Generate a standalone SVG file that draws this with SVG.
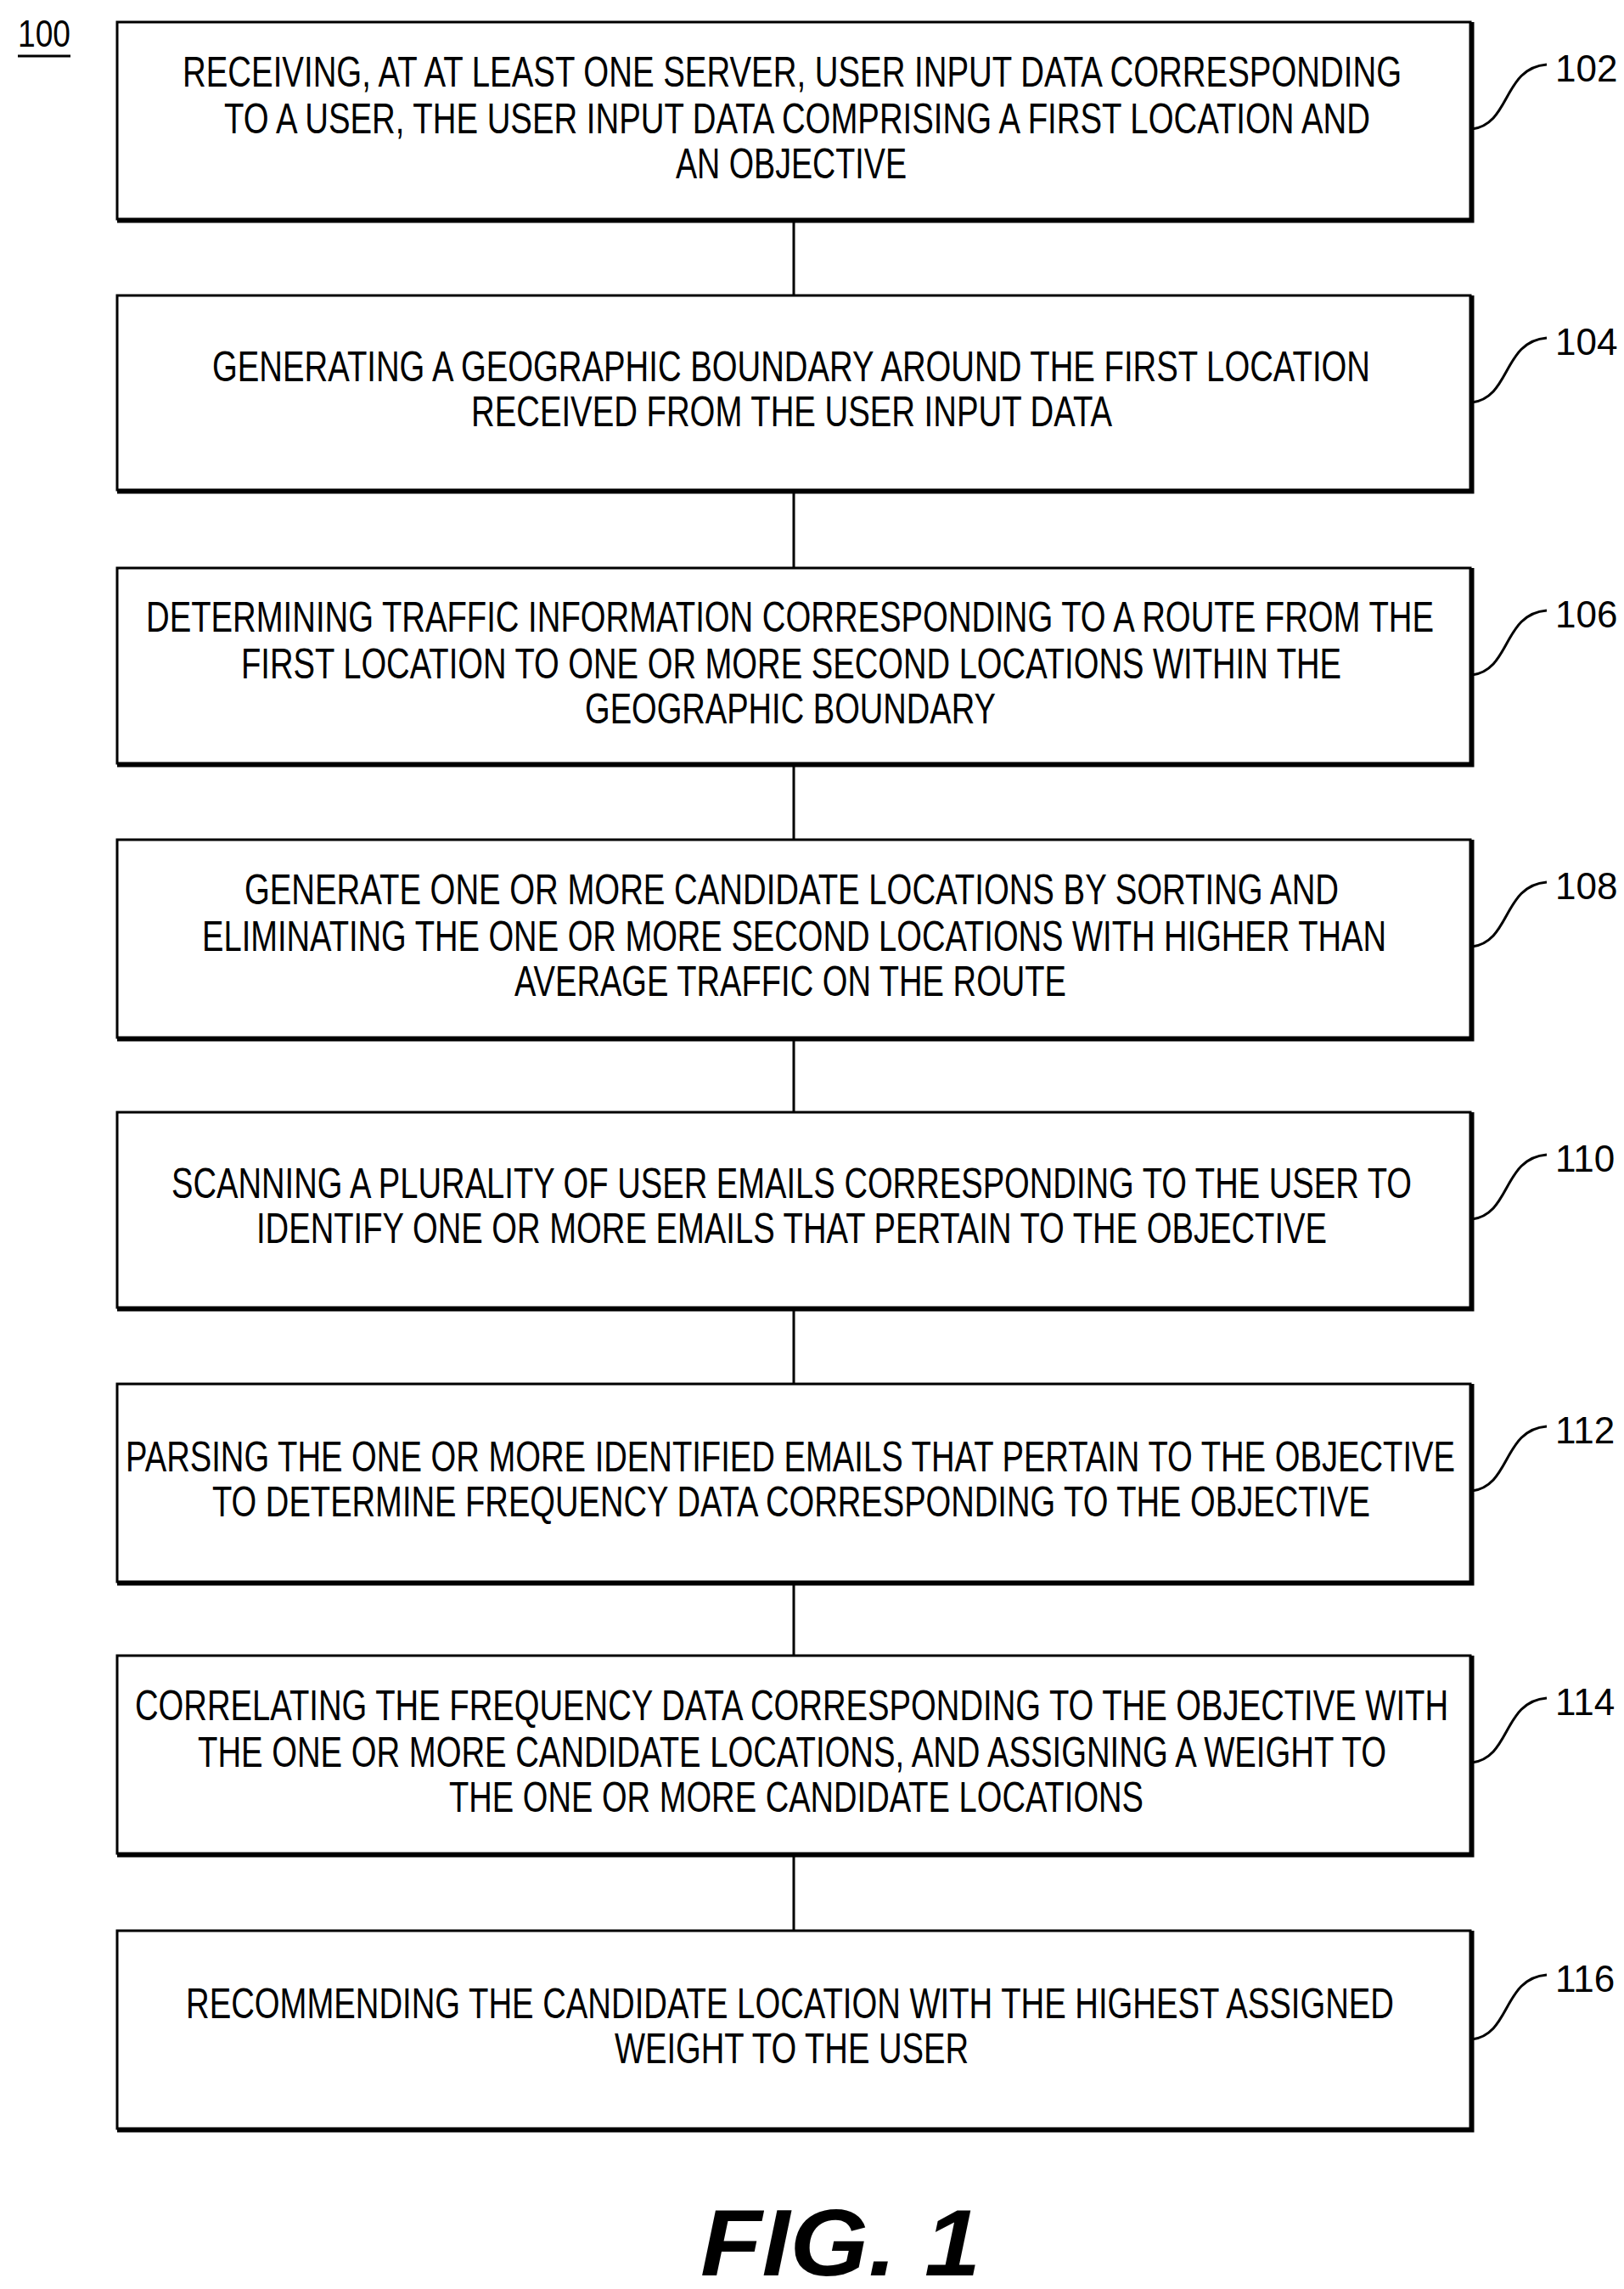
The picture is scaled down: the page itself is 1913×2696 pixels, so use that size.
<svg xmlns="http://www.w3.org/2000/svg" width="1913" height="2696" viewBox="0 0 1913 2696">
<style>
.box{fill:#fff;stroke:#000;stroke-width:3}
.sh{stroke:#000;stroke-width:5;fill:none}
.t{font-family:"Liberation Sans",Arial,sans-serif;font-size:50px;fill:#000}
.lbl{font-family:"Liberation Sans",Arial,sans-serif;font-size:44px;fill:#000}
.ld{stroke:#000;stroke-width:3;fill:none}
.cn{stroke:#000;stroke-width:3}
</style>
<rect width="1913" height="2696" fill="#fff"/>
<g id="ref100"><text class="lbl" x="21" y="55" textLength="62" lengthAdjust="spacingAndGlyphs">100</text><line x1="21" y1="66" x2="83" y2="66" stroke="#000" stroke-width="3"/></g>
<g id="connectors">
<line class="cn" x1="935" y1="258" x2="935" y2="348"/>
<line class="cn" x1="935" y1="577" x2="935" y2="669"/>
<line class="cn" x1="935" y1="899" x2="935" y2="989"/>
<line class="cn" x1="935" y1="1222" x2="935" y2="1310"/>
<line class="cn" x1="935" y1="1540" x2="935" y2="1630"/>
<line class="cn" x1="935" y1="1863" x2="935" y2="1950"/>
<line class="cn" x1="935" y1="2183" x2="935" y2="2274"/>
</g>
<g id="n102"><rect class="box" x="138" y="26" width="1594" height="232"/><polyline class="sh" points="1734,26 1734,260 138,260"/>
<text class="t" x="215" y="102" textLength="1436" lengthAdjust="spacingAndGlyphs">RECEIVING, AT AT LEAST ONE SERVER, USER INPUT DATA CORRESPONDING</text>
<text class="t" x="264" y="157" textLength="1350" lengthAdjust="spacingAndGlyphs">TO A USER, THE USER INPUT DATA COMPRISING A FIRST LOCATION AND</text>
<text class="t" x="796" y="210" textLength="272" lengthAdjust="spacingAndGlyphs">AN OBJECTIVE</text>
<path class="ld" d="M1734,152 C1780,146 1770,80 1822,76"/><text class="lbl" x="1832" y="96">102</text></g>
<g id="n104"><rect class="box" x="138" y="348" width="1594" height="229"/><polyline class="sh" points="1734,348 1734,579 138,579"/>
<text class="t" x="250" y="449" textLength="1364" lengthAdjust="spacingAndGlyphs">GENERATING A GEOGRAPHIC BOUNDARY AROUND THE FIRST LOCATION</text>
<text class="t" x="555" y="502" textLength="755" lengthAdjust="spacingAndGlyphs">RECEIVED FROM THE USER INPUT DATA</text>
<path class="ld" d="M1734,474 C1780,468 1770,402 1822,398"/><text class="lbl" x="1832" y="418">104</text></g>
<g id="n106"><rect class="box" x="138" y="669" width="1594" height="230"/><polyline class="sh" points="1734,669 1734,901 138,901"/>
<text class="t" x="172" y="744" textLength="1517" lengthAdjust="spacingAndGlyphs">DETERMINING TRAFFIC INFORMATION CORRESPONDING TO A ROUTE FROM THE</text>
<text class="t" x="284" y="799" textLength="1296" lengthAdjust="spacingAndGlyphs">FIRST LOCATION TO ONE OR MORE SECOND LOCATIONS WITHIN THE</text>
<text class="t" x="689" y="852" textLength="484" lengthAdjust="spacingAndGlyphs">GEOGRAPHIC BOUNDARY</text>
<path class="ld" d="M1734,795 C1780,789 1770,723 1822,719"/><text class="lbl" x="1832" y="739">106</text></g>
<g id="n108"><rect class="box" x="138" y="989" width="1594" height="233"/><polyline class="sh" points="1734,989 1734,1224 138,1224"/>
<text class="t" x="288" y="1065" textLength="1289" lengthAdjust="spacingAndGlyphs">GENERATE ONE OR MORE CANDIDATE LOCATIONS BY SORTING AND</text>
<text class="t" x="238" y="1120" textLength="1395" lengthAdjust="spacingAndGlyphs">ELIMINATING THE ONE OR MORE SECOND LOCATIONS WITH HIGHER THAN</text>
<text class="t" x="606" y="1173" textLength="650" lengthAdjust="spacingAndGlyphs">AVERAGE TRAFFIC ON THE ROUTE</text>
<path class="ld" d="M1734,1115 C1780,1109 1770,1043 1822,1039"/><text class="lbl" x="1832" y="1059">108</text></g>
<g id="n110"><rect class="box" x="138" y="1310" width="1594" height="230"/><polyline class="sh" points="1734,1310 1734,1542 138,1542"/>
<text class="t" x="202" y="1411" textLength="1461" lengthAdjust="spacingAndGlyphs">SCANNING A PLURALITY OF USER EMAILS CORRESPONDING TO THE USER TO</text>
<text class="t" x="302" y="1464" textLength="1261" lengthAdjust="spacingAndGlyphs">IDENTIFY ONE OR MORE EMAILS THAT PERTAIN TO THE OBJECTIVE</text>
<path class="ld" d="M1734,1436 C1780,1430 1770,1364 1822,1360"/><text class="lbl" x="1832" y="1380">110</text></g>
<g id="n112"><rect class="box" x="138" y="1630" width="1594" height="233"/><polyline class="sh" points="1734,1630 1734,1865 138,1865"/>
<text class="t" x="148" y="1733" textLength="1566" lengthAdjust="spacingAndGlyphs">PARSING THE ONE OR MORE IDENTIFIED EMAILS THAT PERTAIN TO THE OBJECTIVE</text>
<text class="t" x="250" y="1786" textLength="1364" lengthAdjust="spacingAndGlyphs">TO DETERMINE FREQUENCY DATA CORRESPONDING TO THE OBJECTIVE</text>
<path class="ld" d="M1734,1756 C1780,1750 1770,1684 1822,1680"/><text class="lbl" x="1832" y="1700">112</text></g>
<g id="n114"><rect class="box" x="138" y="1950" width="1594" height="233"/><polyline class="sh" points="1734,1950 1734,2185 138,2185"/>
<text class="t" x="159" y="2026" textLength="1547" lengthAdjust="spacingAndGlyphs">CORRELATING THE FREQUENCY DATA CORRESPONDING TO THE OBJECTIVE WITH</text>
<text class="t" x="233" y="2081" textLength="1400" lengthAdjust="spacingAndGlyphs">THE ONE OR MORE CANDIDATE LOCATIONS, AND ASSIGNING A WEIGHT TO</text>
<text class="t" x="529" y="2134" textLength="818" lengthAdjust="spacingAndGlyphs">THE ONE OR MORE CANDIDATE LOCATIONS</text>
<path class="ld" d="M1734,2076 C1780,2070 1770,2004 1822,2000"/><text class="lbl" x="1832" y="2020">114</text></g>
<g id="n116"><rect class="box" x="138" y="2274" width="1594" height="233"/><polyline class="sh" points="1734,2274 1734,2509 138,2509"/>
<text class="t" x="219" y="2377" textLength="1423" lengthAdjust="spacingAndGlyphs">RECOMMENDING THE CANDIDATE LOCATION WITH THE HIGHEST ASSIGNED</text>
<text class="t" x="724" y="2430" textLength="417" lengthAdjust="spacingAndGlyphs">WEIGHT TO THE USER</text>
<path class="ld" d="M1734,2402 C1780,2396 1770,2330 1822,2326"/><text class="lbl" x="1832" y="2346">116</text></g>
<g id="fig"><text x="825" y="2680" font-family="Liberation Sans,Arial,sans-serif" font-size="112" font-weight="bold" font-style="italic" textLength="330" lengthAdjust="spacingAndGlyphs">FIG. 1</text></g>
</svg>
